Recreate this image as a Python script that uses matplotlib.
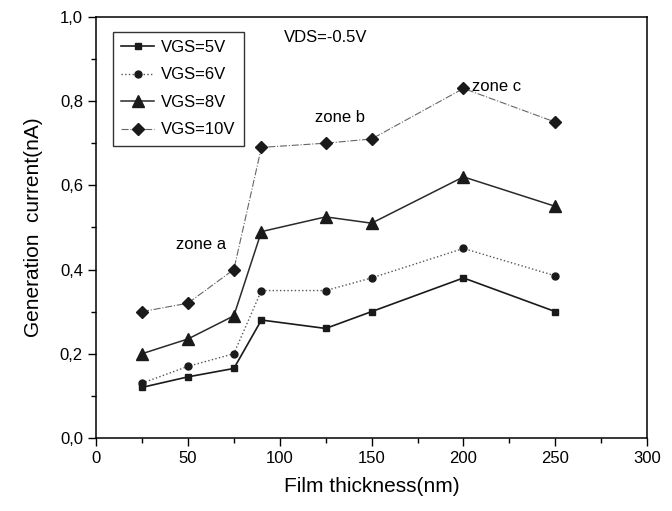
import matplotlib
matplotlib.use("Agg")
import matplotlib.pyplot as plt
from matplotlib.ticker import MultipleLocator, FuncFormatter

plt.rcParams['font.family'] = ['Liberation Sans Narrow', 'Liberation Sans', 'DejaVu Sans']

thickness = [25, 50, 75, 90, 125, 150, 200, 250]
vgs5 = [0.12, 0.145, 0.165, 0.28, 0.26, 0.30, 0.38, 0.30]
vgs6 = [0.13, 0.17, 0.20, 0.35, 0.35, 0.38, 0.45, 0.385]
vgs8 = [0.20, 0.235, 0.29, 0.49, 0.525, 0.51, 0.62, 0.55]
vgs10 = [0.30, 0.32, 0.40, 0.69, 0.70, 0.71, 0.83, 0.75]
labels = ["VGS=5V", "VGS=6V", "VGS=8V", "VGS=10V"]

fig = plt.figure(figsize=(6.72, 5.11), dpi=100)
ax = fig.add_axes([0.143, 0.143, 0.820, 0.824])

ax.plot(thickness, vgs5, "-", color="#1a1a1a", lw=1.2, marker="s", ms=5, mfc="#1a1a1a", label=labels[0])
ax.plot(thickness, vgs6, ":", color="#555555", lw=1.0, marker="o", ms=5, mfc="#1a1a1a", mec="#1a1a1a", label=labels[1])
ax.plot(thickness, vgs8, "-", color="#2a2a2a", lw=1.1, marker="^", ms=8, mfc="#1a1a1a", mec="#1a1a1a", label=labels[2])
ax.plot(thickness, vgs10, "-.", color="#666666", lw=0.8, marker="D", ms=6, mfc="#1a1a1a", mec="#1a1a1a", label=labels[3])

ax.set_xlim(0, 300)
ax.set_ylim(0, 1.0)
ax.xaxis.set_major_locator(MultipleLocator(50))
ax.xaxis.set_minor_locator(MultipleLocator(25))
ax.yaxis.set_major_locator(MultipleLocator(0.2))
ax.yaxis.set_minor_locator(MultipleLocator(0.1))
ax.yaxis.set_major_formatter(FuncFormatter(lambda v, p: f"{v:.1f}".replace(".", ",")))
ax.tick_params(which="major", direction="out", length=6, width=1, labelsize=12, top=False, right=False)
ax.tick_params(which="minor", direction="out", length=3.5, width=1, top=False, right=False)
for s in ax.spines.values():
    s.set_linewidth(1.1)

ax.set_xlabel("Film thickness(nm)", fontsize=15, labelpad=8)
ax.set_ylabel("Generation  current(nA)", fontsize=15, labelpad=12)

ax.text(102, 0.95, "VDS=-0.5V", fontsize=12, va="center", ha="left")
ax.text(57, 0.46, "zone a", fontsize=12, va="center", ha="center")
ax.text(133, 0.76, "zone b", fontsize=12, va="center", ha="center")
ax.text(218, 0.835, "zone c", fontsize=12, va="center", ha="center")

leg = ax.legend(loc="upper left", bbox_to_anchor=(0.015, 0.985), fontsize=12, frameon=True,
                fancybox=False, edgecolor="black", handlelength=2.0, borderpad=0.5,
                labelspacing=0.75, handletextpad=0.4)
leg.get_frame().set_linewidth(1.0)

fig.savefig("out.png", dpi=100)
